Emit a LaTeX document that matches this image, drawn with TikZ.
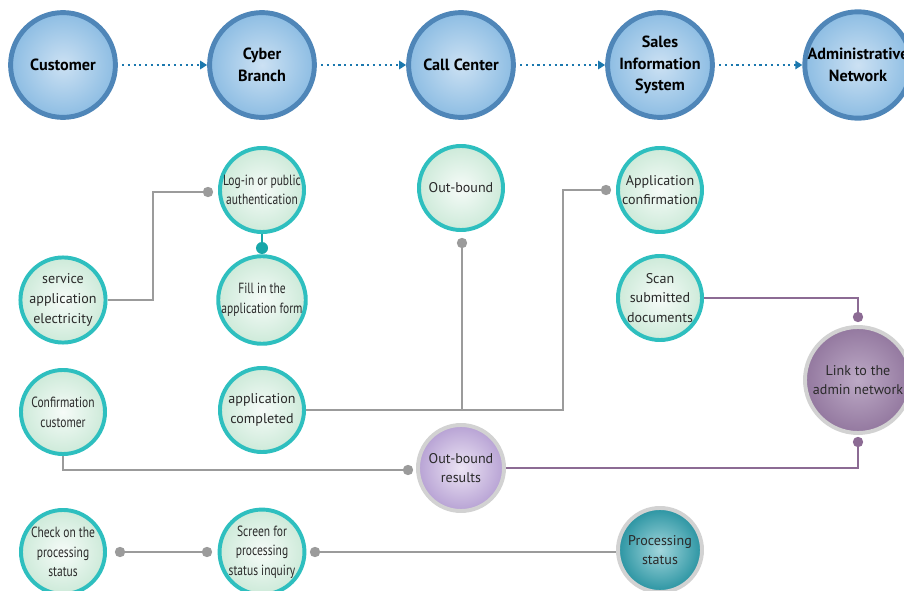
\documentclass[tikz,border=0pt]{standalone}
\usepackage{fontspec}
\setmainfont{PT Sans}
\newfontfamily\squeezed[FakeStretch=0.78]{PT Sans}
\usetikzlibrary{arrows.meta,backgrounds}
\definecolor{topedge}{HTML}{4F86B8}
\definecolor{topin}{HTML}{CCE1F3}
\definecolor{topout}{HTML}{8DBDE3}
\definecolor{flow}{HTML}{1B78AE}
\definecolor{ring}{HTML}{2EBFBF}
\definecolor{mintin}{HTML}{F6FBF8}
\definecolor{mintout}{HTML}{CDEAD9}
\definecolor{lilacin}{HTML}{ECE4F4}
\definecolor{lilacout}{HTML}{B7A2D4}
\definecolor{plumin}{HTML}{BDAAC6}
\definecolor{plumout}{HTML}{93789F}
\definecolor{tealin}{HTML}{A2D6DC}
\definecolor{tealout}{HTML}{2A94A2}
\definecolor{halo}{HTML}{D2D2D2}
\definecolor{wire}{HTML}{9B9B9B}
\definecolor{plumwire}{HTML}{8C6B94}
\definecolor{tealdot}{HTML}{17A7A9}
\definecolor{ink}{HTML}{2A2A2A}

\begin{document}
\begin{tikzpicture}[x=0.025cm, y=-0.025cm,
  every node/.style={align=center, inner sep=0pt, text=ink},
  topc/.style={circle, minimum size=2.62cm, line width=3.5pt, draw=topedge, inner color=topin, outer color=topout, text=black, font=\fontsize{11.5}{15.5}\selectfont\bfseries},
  stepc/.style={circle, minimum size=2.1cm, line width=2.8pt, draw=ring, inner color=mintin, outer color=mintout, font=\fontsize{10}{14}\selectfont},
  tightc/.style={stepc, font=\fontsize{10.5}{14}\selectfont\squeezed},
  resc/.style={circle, minimum size=2.15cm, line width=2.8pt, draw=halo, inner color=lilacin, outer color=lilacout, font=\fontsize{10}{14}\selectfont},
  linkc/.style={circle, minimum size=2.65cm, line width=2.8pt, draw=halo, inner color=plumin, outer color=plumout, font=\fontsize{10}{14}\selectfont},
  procc/.style={circle, minimum size=2.1cm, line width=2.8pt, draw=halo, inner color=tealin, outer color=tealout, font=\fontsize{10}{14}\selectfont},
  gdot/.style={circle, fill=wire, minimum size=0.26cm},
  pdot/.style={circle, fill=plumwire, minimum size=0.26cm},
  tdot/.style={circle, fill=tealdot, minimum size=0.3cm},
  gline/.style={draw=wire, line width=1.4pt},
  pline/.style={draw=plumwire, line width=1.4pt},
  flowarrow/.style={draw=flow, line width=1.5pt, dash pattern=on 1.5pt off 2.6pt, shorten <=3pt, -{Triangle[length=5pt,width=6pt]}}]
\useasboundingbox (0,0) rectangle (904,591);
% channels
\node[topc] (cust) at (63,65) {Customer};
\node[topc] (cyber) at (262,65) {Cyber\\Branch};
\node[topc] (call) at (461,65) {Call Center};
\node[topc] (sis) at (660,65) {Sales\\Information\\System};
\node[topc] (admin) at (858,65) {Administrative\\Network};
\draw[flowarrow] (cust) -- (cyber);
\draw[flowarrow] (cyber) -- (call);
\draw[flowarrow] (call) -- (sis);
\draw[flowarrow] (sis) -- (admin);
% steps
\node[tightc] (login) at (262,190) {Log-in or public\\authentication};
\node[tightc] (fill) at (262,300) {Fill in the\\application form};
\node[stepc] (svc) at (63,300) {service\\application\\electricity};
\node[stepc] (outb) at (461,188) {Out-bound};
\node[stepc] (appconf) at (660,190) {Application\\confirmation};
\node[stepc] (scan) at (660,298) {Scan\\submitted\\documents};
\node[tightc] (confc) at (63,412) {Confirmation\\customer};
\node[stepc] (appc) at (262,410) {application\\completed};
\node[resc] (outres) at (461,468) {Out-bound\\results};
\node[linkc] (link) at (858,380) {Link to the\\admin network};
\node[tightc] (check) at (63,552) {Check on the\\processing\\status};
\node[tightc] (screen) at (262,552) {Screen for\\processing\\status inquiry};
\node[procc] (proc) at (660,550) {Processing\\status};
% dots
\node[gdot] (dlog) at (208,192) {};
\node[tdot] (dfill) at (262,248) {};
\node[gdot] (dout) at (462,243) {};
\node[gdot] (dconf) at (606,190) {};
\node[pdot] (dscan) at (858,317) {};
\node[gdot] (dres) at (408,470) {};
\node[pdot] (dlink) at (858,442) {};
\node[gdot] (dchk) at (120,552) {};
\node[gdot] (dscr) at (207,552) {};
\node[gdot] (dscr2) at (315,552) {};
% wires
\begin{scope}[on background layer]
\draw[gline] (svc.east) -- ++(45,0) |- (dlog);
\draw[draw=tealdot, line width=1.4pt] (login.south) -- (dfill);
\draw[gline] (dout) -- (dout |- appc.east);
\draw[gline] (appc.east) -- ++(257,0) |- (dconf);
\draw[gline] (confc.south) |- (dres);
\draw[pline] (outres.east) -| (dlink);
\draw[pline] (scan.east) -| (dscan);
\draw[gline] (dchk) -- (dscr);
\draw[gline] (dscr2) -- (dscr2 -| proc.west);
\end{scope}
\end{tikzpicture}
\end{document}
